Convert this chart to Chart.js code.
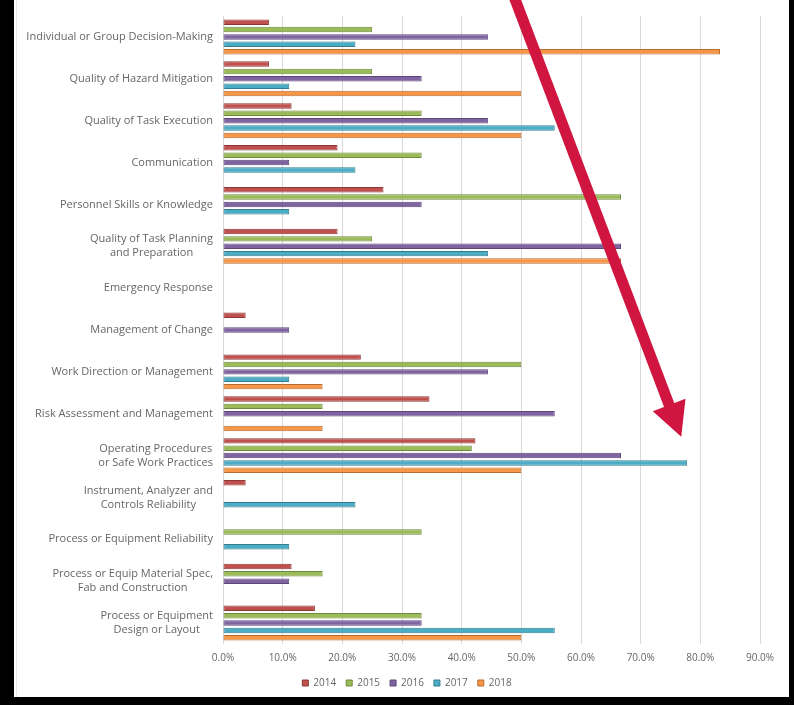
<!DOCTYPE html>
<html>
<head>
<meta charset="utf-8">
<script src="https://cdn.jsdelivr.net/npm/chart.js@4.4.1/dist/chart.umd.min.js"></script>
<style>
html, body { margin: 0; padding: 0; background: #fff; }
#frame { position: relative; width: 794px; height: 705px; overflow: hidden; }
#chart { position: absolute; left: 0; top: 0; }
.edge { position: absolute; background: #000; }
</style>
</head>
<body>
<div id="frame">
  <canvas id="chart" width="794" height="705"></canvas>
  <div class="edge" style="left:0;top:0;width:14px;height:705px"></div>
  <div class="edge" style="right:0;top:0;width:5px;height:705px"></div>
  <div class="edge" style="left:0;bottom:0;width:794px;height:8px"></div>
  <div style="position:absolute;left:16px;top:0;width:1px;height:697px;background:#e6e6e6"></div>
</div>
<script>
// categories, top to bottom (multi-line labels as arrays)
const categories = [
    ['Individual or Group Decision-Making'],
    ['Quality of Hazard Mitigation'],
    ['Quality of Task Execution'],
    ['Communication'],
    ['Personnel Skills or Knowledge'],
    ['Quality of Task Planning', 'and Preparation'],
    ['Emergency Response'],
    ['Management of Change'],
    ['Work Direction or Management'],
    ['Risk Assessment and Management'],
    ['Operating Procedures', 'or Safe Work Practices'],
    ['Instrument, Analyzer and', 'Controls Reliability'],
    ['Process or Equipment Reliability'],
    ['Process or Equip Material Spec,', 'Fab and Construction'],
    ['Process or Equipment', 'Design or Layout']
];

const years = ['2014', '2015', '2016', '2017', '2018'];

// percent of incidents per category
const v2014 = [7.7, 7.7, 11.5, 19.2, 26.9, 19.2, null, 3.8, 23.1, 34.6, 42.3, 3.8, null, 11.5, 15.4];
const v2015 = [25, 25, 33.3, 33.3, 66.7, 25, null, null, 50, 16.7, 41.7, null, 33.3, 16.7, 33.3];
const v2016 = [44.4, 33.3, 44.4, 11.1, 33.3, 66.7, null, 11.1, 44.4, 55.6, 66.7, null, null, 11.1, 33.3];
const v2017 = [22.2, 11.1, 55.6, 22.2, 11.1, 44.4, null, null, 11.1, null, 77.8, 22.2, 11.1, null, 55.6];
const v2018 = [83.3, 50, 50, null, null, 66.7, null, null, 16.7, 16.7, 50, null, null, null, 50];

const xTicks = [0, 10, 20, 30, 40, 50, 60, 70, 80, 90];

// arrow annotation, in data units (x = percent, y = category index)
const arrowFrom = { x: 49.0, y: -0.88 };
const arrowTo = { x: 76.8, y: 9.55 };

const fills = ['#c0504d', '#9bbb59', '#8064a2', '#4bacc6', '#f79646'];
const edges = ['#8c3836', '#71893f', '#5c4776', '#357d91', '#b66d31'];
const series = [v2014, v2015, v2016, v2017, v2018];

Chart.defaults.font.family = "'Open Sans', sans-serif";
Chart.defaults.color = '#666666';

const labelPlugin = {
    id: 'catLabels',
    afterDraw(chart) {
        const ctx = chart.ctx;
        const y = chart.scales.y;
        const right = chart.chartArea.left - 10;
        ctx.save();
        ctx.font = "11px 'Open Sans', sans-serif";
        ctx.fillStyle = '#666666';
        ctx.textAlign = 'center';
        ctx.textBaseline = 'middle';
        categories.forEach((lines, i) => {
            const cy = y.getPixelForTick(i);
            const w = Math.max(...lines.map(l => ctx.measureText(l).width));
            const cx = right - w / 2;
            lines.forEach((l, k) => {
                ctx.fillText(l, cx, cy + (k - (lines.length - 1) / 2) * 14);
            });
        });
        ctx.restore();
    }
};

const arrowPlugin = {
    id: 'arrow',
    afterDraw(chart) {
        const { x, y } = chart.scales;
        const ctx = chart.ctx;
        const x0 = x.getPixelForValue(arrowFrom.x), y0 = y.getPixelForValue(arrowFrom.y);
        const x1 = x.getPixelForValue(arrowTo.x), y1 = y.getPixelForValue(arrowTo.y);
        const len = Math.hypot(x1 - x0, y1 - y0);
        const ux = (x1 - x0) / len, uy = (y1 - y0) / len;
        const head = 34, half = 17.5;
        const bx = x1 - ux * head, by = y1 - uy * head;
        ctx.save();
        ctx.strokeStyle = '#cf1540';
        ctx.fillStyle = '#cf1540';
        ctx.lineWidth = 11;
        ctx.beginPath();
        ctx.moveTo(x0 - ux * 20, y0 - uy * 20);
        ctx.lineTo(bx + ux * 2, by + uy * 2);
        ctx.stroke();
        ctx.beginPath();
        ctx.moveTo(x1, y1);
        ctx.lineTo(bx - uy * half, by + ux * half);
        ctx.lineTo(bx + uy * half, by - ux * half);
        ctx.closePath();
        ctx.fill();
        ctx.restore();
    }
};

new Chart(document.getElementById('chart'), {
    type: 'bar',
    data: {
        labels: categories.map(c => c.join(' ')),
        datasets: years.map((yr, i) => ({
            label: yr,
            data: series[i],
            backgroundColor: fills[i],
            borderColor: edges[i],
            borderWidth: 1,
            borderSkipped: false,
            categoryPercentage: 0.88,
            barPercentage: 0.74
        }))
    },
    options: {
        indexAxis: 'y',
        responsive: false,
        animation: false,
        layout: { padding: { top: 16, left: 54, right: 34, bottom: 7 } },
        scales: {
            x: {
                min: 0,
                max: 90,
                afterBuildTicks: s => { s.ticks = xTicks.map(v => ({ value: v })); },
                ticks: {
                    callback: v => v.toFixed(1) + '%',
                    font: { size: 10 },
                    padding: 8,
                    maxRotation: 0
                },
                grid: { color: '#d9d9d9', drawTicks: false },
                border: { display: false },
                afterFit: s => { s.height = 24; }
            },
            y: {
                grid: { display: false },
                border: { display: false },
                ticks: { display: false },
                afterFit: s => { s.width = 169; }
            }
        },
        plugins: {
            legend: {
                position: 'bottom',
                labels: { boxWidth: 6, boxHeight: 6, font: { size: 10 }, padding: 10 }
            },
            tooltip: { enabled: false }
        }
    },
    plugins: [labelPlugin, arrowPlugin]
});
</script>
</body>
</html>
